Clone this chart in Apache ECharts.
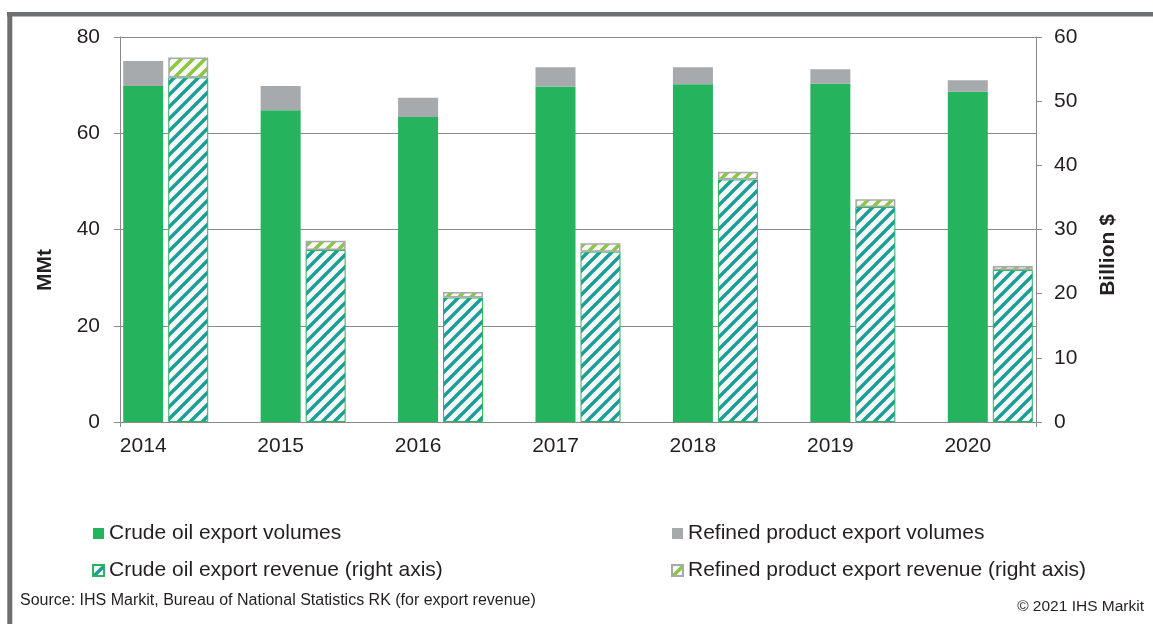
<!DOCTYPE html>
<html>
<head>
<meta charset="utf-8">
<script src="https://cdn.jsdelivr.net/npm/echarts@6/dist/echarts.min.js"></script>
<style>
html,body{margin:0;padding:0;background:#fff;}
#chart{width:1153px;height:624px;}
</style>
</head>
<body>
<div id="chart"></div>
<script>
// ---- data ----
const years = ['2014', '2015', '2016', '2017', '2018', '2019', '2020'];
const crudeVolumes = [69.8, 64.8, 63.4, 69.7, 70.2, 70.3, 68.6];      // MMt
const refinedVolumes = [5.2, 5.0, 4.0, 4.0, 3.5, 3.0, 2.4];           // MMt
const crudeRevenue = [53.7, 26.8, 19.4, 26.55, 37.8, 33.5, 23.7];     // Billion $
const refinedRevenue = [3.1, 1.45, 0.86, 1.3, 1.2, 1.2, 0.6];         // Billion $
const leftAxisTicks = [0, 20, 40, 60, 80];
const rightAxisTicks = [0, 10, 20, 30, 40, 50, 60];
const seriesNames = ['Crude oil export volumes', 'Refined product export volumes',
  'Crude oil export revenue (right axis)', 'Refined product export revenue (right axis)'];
const sourceText = 'Source: IHS Markit, Bureau of National Statistics RK (for export revenue)';
const copyrightText = '\u00a9 2021 IHS Markit';

// ---- styles ----
const FONT = "'Liberation Sans', Arial, Helvetica, sans-serif";
const TXT = '#231f20';
const AXIS = '#8a8a8a';
const GREEN = '#25b35d';
const GREY = '#a7aaad';

function hatch(stripe, bg) {
  const s = 12;
  const c = document.createElement('canvas');
  c.width = s; c.height = s;
  const ctx = c.getContext('2d');
  ctx.fillStyle = bg;
  ctx.fillRect(0, 0, s, s);
  ctx.strokeStyle = stripe;
  ctx.lineWidth = 3.4;
  ctx.beginPath();
  ctx.moveTo(-s, 2 * s); ctx.lineTo(2 * s, -s);
  ctx.moveTo(-s, s); ctx.lineTo(s, -s);
  ctx.moveTo(0, 2 * s); ctx.lineTo(2 * s, 0);
  ctx.stroke();
  return { image: c, repeat: 'repeat' };
}
const crudeHatch = hatch('#1a9e97', '#f7f8f7');
const refinedHatch = hatch('#8cc63f', '#f7f8f7');

const lMin = leftAxisTicks[0], lMax = leftAxisTicks[leftAxisTicks.length - 1], lStep = leftAxisTicks[1] - leftAxisTicks[0];
const rMin = rightAxisTicks[0], rMax = rightAxisTicks[rightAxisTicks.length - 1], rStep = rightAxisTicks[1] - rightAxisTicks[0];

const chart = echarts.init(document.getElementById('chart'), null, { renderer: 'canvas' });
const option = {
  animation: false,
  backgroundColor: '#fff',
  textStyle: { fontFamily: FONT, color: TXT },
  grid: [
    { left: 120, right: 117, top: 37, bottom: 202, containLabel: false },
    { left: 97, width: 962, top: 37, bottom: 202, containLabel: false }
  ],
  xAxis: [
    {
      gridIndex: 0, type: 'category', data: [''], boundaryGap: true,
      axisLine: { show: true, lineStyle: { color: AXIS, width: 1 } },
      axisTick: { show: true, length: 5, lineStyle: { color: AXIS } },
      axisLabel: { show: false }, splitLine: { show: false }
    },
    {
      gridIndex: 1, type: 'category', data: years, boundaryGap: true,
      axisLine: { show: false }, axisTick: { show: false }, splitLine: { show: false },
      axisLabel: { show: true, fontSize: 21, color: TXT, fontFamily: FONT, margin: 14, padding: [0, 45, 0, 0] }
    }
  ],
  yAxis: [
    {
      gridIndex: 0, type: 'value', position: 'left', min: lMin, max: lMax, interval: lStep,
      axisLine: { show: true, lineStyle: { color: AXIS, width: 1 } },
      axisTick: { show: true, length: 6, lineStyle: { color: AXIS } },
      splitLine: { show: true, lineStyle: { color: AXIS, width: 1 } },
      axisLabel: { fontSize: 21, color: TXT, fontFamily: FONT, margin: 20 }
    },
    {
      gridIndex: 0, type: 'value', position: 'right', min: rMin, max: rMax, interval: rStep,
      axisLine: { show: true, lineStyle: { color: AXIS, width: 1 } },
      axisTick: { show: true, length: 6, lineStyle: { color: AXIS } },
      splitLine: { show: false },
      axisLabel: { fontSize: 21, color: TXT, fontFamily: FONT, margin: 18 }
    },
    { gridIndex: 1, type: 'value', min: lMin, max: lMax, interval: lStep, show: false, splitLine: { show: false } },
    { gridIndex: 1, type: 'value', min: rMin, max: rMax, interval: rStep, show: false, splitLine: { show: false } }
  ],
  legend: [
    {
      orient: 'vertical', left: 92, top: 523, padding: 0, itemGap: 16, itemWidth: 11, itemHeight: 11, icon: 'rect',
      textStyle: { fontSize: 21, color: TXT, fontFamily: FONT },
      data: [seriesNames[0], seriesNames[2]], selectedMode: false
    },
    {
      orient: 'vertical', left: 671, top: 523, padding: 0, itemGap: 16, itemWidth: 11, itemHeight: 11, icon: 'rect',
      textStyle: { fontSize: 21, color: TXT, fontFamily: FONT },
      data: [seriesNames[1], seriesNames[3]], selectedMode: false
    }
  ],
  series: [
    {
      name: seriesNames[0], type: 'bar', xAxisIndex: 1, yAxisIndex: 2, stack: 'vol',
      data: crudeVolumes, barWidth: 40, barGap: '12.5%',
      itemStyle: { color: GREEN }
    },
    {
      name: seriesNames[1], type: 'bar', xAxisIndex: 1, yAxisIndex: 2, stack: 'vol',
      data: refinedVolumes, barWidth: 40, barGap: '12.5%',
      itemStyle: { color: GREY }
    },
    {
      name: seriesNames[2], type: 'bar', xAxisIndex: 1, yAxisIndex: 3, stack: 'rev',
      data: crudeRevenue, barWidth: 40, barGap: '12.5%',
      itemStyle: { color: crudeHatch, borderColor: '#2bb35f', borderWidth: 1 }
    },
    {
      name: seriesNames[3], type: 'bar', xAxisIndex: 1, yAxisIndex: 3, stack: 'rev',
      data: refinedRevenue, barWidth: 40, barGap: '12.5%',
      itemStyle: { color: refinedHatch, borderColor: GREY, borderWidth: 1.5 }
    }
  ],
  graphic: [
    { type: 'rect', silent: true, shape: { x: 7, y: 12, width: 1146, height: 4.5 }, style: { fill: '#6d6e70' } },
    { type: 'rect', silent: true, shape: { x: 7.3, y: 12, width: 5, height: 612 }, style: { fill: '#6d6e70' } },
    { type: 'text', silent: true, x: 45, y: 270, rotation: Math.PI / 2,
      style: { text: 'MMt', font: "bold 21px " + FONT, fill: TXT, textAlign: 'center', textVerticalAlign: 'middle' } },
    { type: 'text', silent: true, x: 1108, y: 255, rotation: Math.PI / 2,
      style: { text: 'Billion $', font: "bold 21px " + FONT, fill: TXT, textAlign: 'center', textVerticalAlign: 'middle' } },
    { type: 'text', silent: true, x: 20, y: 601,
      style: { text: sourceText, font: "16px " + FONT, fill: TXT, textAlign: 'left', textVerticalAlign: 'middle' } },
    { type: 'text', silent: true, x: 1144, y: 607,
      style: { text: copyrightText, font: "15.5px " + FONT, fill: TXT, textAlign: 'right', textVerticalAlign: 'middle' } }
  ]
};
chart.setOption(option);
</script>
</body>
</html>
